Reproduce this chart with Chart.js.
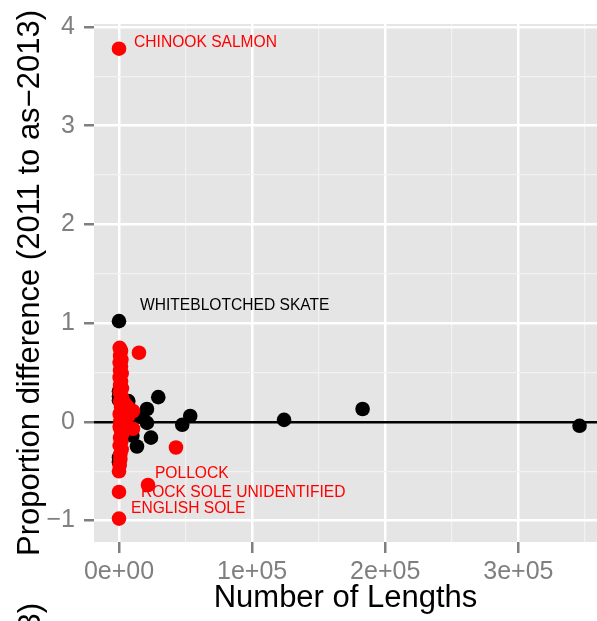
<!DOCTYPE html>
<html>
<head>
<meta charset="utf-8">
<script src="https://cdn.jsdelivr.net/npm/chart.js@4"></script>
<style>
  html, body { margin: 0; padding: 0; background: #fff; }
  #wrap { width: 597px; height: 621px; position: relative; }
</style>
</head>
<body>
<div id="wrap"><canvas id="chartLengths"></canvas></div>
<script>
// ---- data ----
const RED_X = [0, 500, 1500, 800, 1800, 500, 1500, 800, 2000, 500, 1500, 800, 2200, 500, 1500, 2500, 800,
  4000, 6000, 1500, 8000, 3000, 10500, 5000, 500, 7000, 2000, 1000, 2500, 500, 1500, 2500, 800, 1800,
  500, 2000, 1000, 1000, 500, 0, 15000, 10500, 42800, 21800, 0, 0];
const RED_Y = [3.78, 0.75, 0.72, 0.67, 0.63, 0.60, 0.56, 0.52, 0.49, 0.45, 0.41, 0.37, 0.34, 0.30, 0.27, 0.24, 0.21,
  0.19, 0.16, 0.15, 0.13, 0.12, 0.11, 0.09, 0.08, 0.06, 0.04, 0.01, -0.02, -0.05, -0.09, -0.12, -0.16, -0.20,
  -0.24, -0.28, -0.33, -0.38, -0.44, -0.50, 0.70, -0.07, -0.26, -0.64, -0.71, -0.98];

const BLACK_X = [0, 29500, 21000, 21000, 24000, 13500, 47500, 53500, 124000, 183000, 346000,
  0, 0, 0, 0, 0, 7000, 9000, 6000, 16000, 10000];
const BLACK_Y = [1.02, 0.25, 0.13, -0.01, -0.16, -0.25, -0.03, 0.06, 0.02, 0.13, -0.04,
  0.31, 0.26, 0.22, -0.36, -0.41, 0.21, 0.03, -0.12, 0.05, -0.14];

const LABEL_TEXT = ['CHINOOK SALMON', 'WHITEBLOTCHED SKATE', 'POLLOCK', 'ROCK SOLE UNIDENTIFIED', 'ENGLISH SOLE'];
const LABEL_X = [11300, 15800, 27000, 16500, 9000];
const LABEL_Y = [3.84, 1.18, -0.525, -0.72, -0.88];
const LABEL_COLOR = ['#ff0000', '#000000', '#ff0000', '#ff0000', '#ff0000'];

const X_MAJOR = [0, 100000, 200000, 300000];
const X_MAJOR_LABELS = ['0e+00', '1e+05', '2e+05', '3e+05'];
const X_MINOR = [50000, 150000, 250000, 350000];
const Y_MAJOR = [-1, 0, 1, 2, 3, 4];
const Y_MINOR = [-0.5, 0.5, 1.5, 2.5, 3.5];

const FONT = "'Liberation Sans', Arial, sans-serif";
const TICK_GREY = '#7f7f7f';

const toPoints = (xs, ys) => xs.map((x, i) => ({ x: x, y: ys[i] }));
const withMinor = (major, minor) => major.concat(minor).sort((a, b) => a - b).map(v => ({ value: v }));

// grey panel behind the plot
const panelBg = {
  id: 'panelBg',
  beforeDraw(chart) {
    const { ctx, chartArea: a } = chart;
    ctx.save();
    ctx.fillStyle = '#e5e5e5';
    ctx.fillRect(a.left, a.top, a.right - a.left, a.bottom - a.top);
    ctx.restore();
  }
};

// species labels + cropped caption at the bottom-left
const textLabels = {
  id: 'textLabels',
  afterDatasetsDraw(chart) {
    const { ctx, scales } = chart;
    ctx.save();
    ctx.font = '15.6px ' + FONT;
    ctx.textAlign = 'left';
    ctx.textBaseline = 'middle';
    LABEL_TEXT.forEach((t, i) => {
      ctx.fillStyle = LABEL_COLOR[i];
      ctx.fillText(t, scales.x.getPixelForValue(LABEL_X[i]), scales.y.getPixelForValue(LABEL_Y[i]));
    });
    ctx.translate(31, 603);
    ctx.rotate(-Math.PI / 2);
    ctx.font = '31px ' + FONT;
    ctx.fillStyle = '#000';
    ctx.textAlign = 'right';
    ctx.fillText('(3)', 0, 0);
    ctx.restore();
  }
};

new Chart(document.getElementById('chartLengths'), {
  type: 'scatter',
  data: {
    datasets: [
      {
        label: 'red',
        data: toPoints(RED_X, RED_Y),
        backgroundColor: '#ff0000',
        borderWidth: 0,
        pointRadius: 7.3,
        pointHoverRadius: 7.3
      },
      {
        label: 'black',
        data: toPoints(BLACK_X, BLACK_Y),
        backgroundColor: '#000000',
        borderWidth: 0,
        pointRadius: 7.3,
        pointHoverRadius: 7.3
      }
    ]
  },
  options: {
    responsive: true,
    maintainAspectRatio: false,
    animation: false,
    layout: { autoPadding: false, padding: { top: 22, right: 0, left: 0, bottom: 0 } },
    plugins: {
      legend: { display: false },
      tooltip: { enabled: false }
    },
    scales: {
      x: {
        type: 'linear',
        min: -18780,
        max: 359100,
        afterBuildTicks: axis => { axis.ticks = withMinor(X_MAJOR, X_MINOR); },
        afterFit: axis => { axis.height = 79; axis.paddingLeft = 0; axis.paddingRight = 0; },
        border: { display: false },
        grid: {
          color: c => X_MAJOR.includes(c.tick.value) ? '#ffffff' : '#f2f2f2',
          lineWidth: c => X_MAJOR.includes(c.tick.value) ? 2.5 : 1.2,
          tickColor: c => X_MAJOR.includes(c.tick.value) ? TICK_GREY : 'rgba(0,0,0,0)',
          tickLength: 11,
          tickWidth: 2.5
        },
        ticks: {
          autoSkip: false,
          maxRotation: 0,
          padding: 4,
          color: TICK_GREY,
          font: { family: FONT, size: 25 },
          callback: v => {
            const i = X_MAJOR.indexOf(v);
            return i >= 0 ? X_MAJOR_LABELS[i] : '';
          }
        },
        title: {
          display: true,
          text: 'Number of Lengths',
          color: '#000',
          font: { family: FONT, size: 31 },
          padding: { top: 0, bottom: 4 }
        }
      },
      y: {
        type: 'linear',
        min: -1.217,
        max: 4.03,
        afterBuildTicks: axis => { axis.ticks = withMinor(Y_MAJOR, Y_MINOR); },
        afterFit: axis => { axis.width = 94; },
        border: { display: false },
        grid: {
          color: c => c.tick.value === 0 ? '#000000' : (Y_MAJOR.includes(c.tick.value) ? '#ffffff' : '#f2f2f2'),
          lineWidth: c => Y_MAJOR.includes(c.tick.value) ? 2.5 : 1.2,
          tickColor: c => Y_MAJOR.includes(c.tick.value) ? TICK_GREY : 'rgba(0,0,0,0)',
          tickLength: 10,
          tickWidth: 2.5
        },
        ticks: {
          autoSkip: false,
          padding: 9,
          color: TICK_GREY,
          font: { family: FONT, size: 25 },
          callback: v => Y_MAJOR.includes(v) ? (v < 0 ? '\u2212' + Math.abs(v) : String(v)) : ''
        },
        title: {
          display: true,
          text: 'Proportion difference (2011 to as\u22122013)',
          color: '#000',
          font: { family: FONT, size: 31 },
          padding: { top: 12, bottom: 0 }
        }
      }
    }
  },
  plugins: [panelBg, textLabels]
});
</script>
</body>
</html>
